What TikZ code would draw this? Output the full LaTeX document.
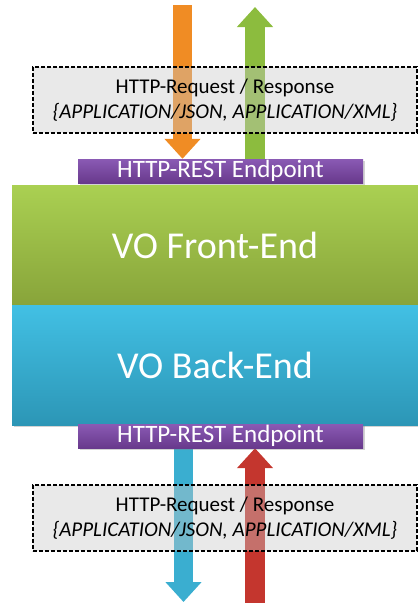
\documentclass[tikz,border=0pt]{standalone}
\usepackage{fontspec}
\setmainfont{Carlito}
\usetikzlibrary{arrows.meta,shadows,backgrounds}
\definecolor{feTop}{HTML}{AAD052}
\definecolor{feBot}{HTML}{88A43A}
\definecolor{beTop}{HTML}{42C0E4}
\definecolor{beBot}{HTML}{2C96B6}
\definecolor{epTopC}{HTML}{8A5AB4}
\definecolor{epBotC}{HTML}{68398C}
\definecolor{reqOrange}{HTML}{F08C24}
\definecolor{resGreen}{HTML}{8CBC3E}
\definecolor{reqBlue}{HTML}{3AAED0}
\definecolor{resRed}{HTML}{C4362E}
\tikzset{
  layer/.style={minimum width=406pt, minimum height=120pt, inner sep=0pt,
    text=white, font=\fontsize{38}{45}\selectfont,
    drop shadow={opacity=0.35, shadow xshift=2pt, shadow yshift=-2pt}},
  endpoint/.style={minimum width=285pt, minimum height=24pt, inner sep=0pt,
    top color=epTopC, bottom color=epBotC, text=white,
    font=\fontsize{25}{26}\selectfont,
    drop shadow={opacity=0.35, shadow xshift=2pt, shadow yshift=-2pt}},
  message/.style={draw, dashed, line width=1.1pt, dash pattern=on 4pt off 2pt,
    fill=black!22, fill opacity=0.4, text opacity=1,
    minimum width=384pt, minimum height=66pt, align=center,
    font=\fontsize{21}{25}\selectfont},
  flow/.style={line width=19pt, -{Triangle[length=20pt,width=35pt]}}
}

\begin{document}
\begin{tikzpicture}[x=1pt, y=-1pt]
  \useasboundingbox (0,0) rectangle (418,603);

  % Layers
  \node[layer, top color=feTop, bottom color=feBot] (fe) at (215,245) {VO Front-End};
  \node[layer, top color=beTop, bottom color=beBot] (be) at (215,365) {VO Back-End};

  % Endpoints
  \node[endpoint] (epTop) at (220.5,171) {HTTP-REST Endpoint};
  \node[endpoint] (epBot) at (220.5,436) {HTTP-REST Endpoint};

  % Messages
  \node[message] (msgTop) at (225,100)
       {HTTP-Request / Response\\ \textit{\{APPLICATION/JSON, APPLICATION/XML\}}};
  \node[message] (msgBot) at (225,518)
       {HTTP-Request / Response\\ \textit{\{APPLICATION/JSON, APPLICATION/XML\}}};

  % Free ends of the flows
  \coordinate (reqIn) at (182.5,5);
  \coordinate (resOut) at (255,7);
  \coordinate (reqOut) at (183.5,602);
  \coordinate (resIn) at (255,603);

  % Flows, behind the boxes
  \begin{scope}[on background layer]
    \draw[flow, reqOrange] (reqIn) -- (reqIn |- epTop.north);
    \draw[flow, resGreen, line width=20pt] (resOut |- epTop.north) -- (resOut);
    \draw[flow, reqBlue] (reqOut |- epBot.south) -- (reqOut);
    \draw[flow, resRed, line width=20pt] (resIn) -- (resIn |- epBot.south);
  \end{scope}
\end{tikzpicture}
\end{document}
